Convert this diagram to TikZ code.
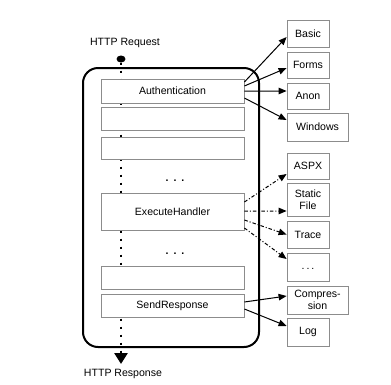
\documentclass[tikz,border=0pt]{standalone}
\usepackage{fontspec}
\setmainfont{Liberation Sans}
\usetikzlibrary{arrows.meta,shapes.geometric}

\begin{document}
\begin{tikzpicture}[x=1bp,y=-1bp,
  font=\fontsize{10.6}{11.5}\selectfont,
  stage/.style={draw=black!45,line width=0.8bp,fill=white,minimum width=143bp,inner sep=0pt},
  mod/.style={draw=black!45,line width=0.8bp,fill=white,minimum width=42bp,minimum height=26bp,inner sep=1bp,align=center},
  call/.style={-{Triangle[length=8bp,width=6.5bp]},line width=1bp},
  handler/.style={call,dash pattern=on 3.5bp off 2bp on 1bp off 2bp}]
\useasboundingbox (0,0) rectangle (391,385);
% pipeline
\draw[line width=2bp,rounded corners=15bp] (83,68) rectangle (259,347);
\node(req) at (125,43){HTTP Request};
\node(resp) at (123,374){HTTP Response};
\node(start)[fill,ellipse,minimum width=9bp,minimum height=7bp,inner sep=0pt] at (121,59){};
\coordinate(stop) at (121,364);
\draw[line width=2.7bp,dash pattern=on 2.5bp off 5.5bp,-{Triangle[length=11bp,width=13bp]}] (start.south) -- (stop);
\node(auth)[stage,minimum height=24bp] at (172.5,91){Authentication};
\node(s2)[stage,minimum height=23bp] at (172.5,118.5){};
\node(s3)[stage,minimum height=22bp] at (172.5,148){};
\node(dots1) at (175,181){\bfseries .\hspace{5bp}.\hspace{5bp}.};
\node(exec)[stage,minimum height=37bp] at (172.5,211.5){ExecuteHandler};
\node(dots2) at (175,254){\bfseries .\hspace{5bp}.\hspace{5bp}.};
\node(s5)[stage,minimum height=23bp] at (172.5,277.5){};
\node(send)[stage,minimum height=23bp] at (172.5,305.5){SendResponse};
% modules
\node(basic)[mod,minimum height=27bp] at (308,33.5){Basic};
\node(forms)[mod] at (308,65){Forms};
\node(anon)[mod] at (308,96){Anon};
\node(win)[mod,minimum width=61bp,minimum height=28bp] at (317.5,127){Windows};
\node(aspx)[mod] at (308,166){ASPX};
\node(static)[mod,minimum height=33bp] at (308,199.5){Static\\File};
\node(trace)[mod,minimum height=27bp] at (308,234.5){Trace};
\node(more)[mod,minimum height=28bp] at (308,267){\raisebox{-4bp}{.\hspace{2bp}.\hspace{2bp}.}};
\node(comp)[mod,minimum width=61bp,minimum height=28bp] at (317.5,300){Compres-\\sion};
\node(log)[mod,minimum height=28bp] at (308,332){Log};
\draw[call]([yshift=9bp]auth.east) -- ([yshift=-3.5bp]basic.west);
\draw[call]([yshift=5bp]auth.east) -- ([yshift=-3bp]forms.west);
\draw[call](auth.east) -- ([yshift=5bp]anon.west);
\draw[call]([yshift=-7bp]auth.east) -- ([yshift=7bp]win.west);
\draw[handler]([yshift=9.5bp]exec.east) -- ([yshift=-8bp]aspx.west);
\draw[handler]([yshift=0.5bp]exec.east) -- ([yshift=-11.5bp]static.west);
\draw[handler]([yshift=-8.5bp]exec.east) -- (trace.west);
\draw[handler]([yshift=-16.5bp]exec.east) -- ([yshift=8bp]more.west);
\draw[call]([yshift=3.5bp]send.east) -- ([yshift=4bp]comp.west);
\draw[call]([yshift=-3.5bp]send.east) -- ([yshift=6bp]log.west);
\end{tikzpicture}
\end{document}
